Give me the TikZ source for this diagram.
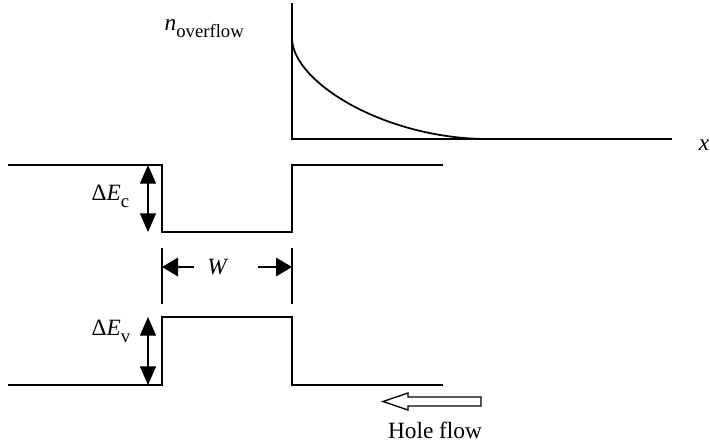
\documentclass[tikz,border=0pt]{standalone}
\usepackage{fontspec}
\setmainfont{Liberation Serif}
\usetikzlibrary{arrows.meta}

\newcommand{\lowsub}[1]{\raisebox{-0.32em}{\fontsize{14}{14}\selectfont #1}}

\begin{document}
\begin{tikzpicture}[x=0.75pt, y=-0.75pt, line width=1.1pt, font=\fontsize{17.5}{19}\selectfont,
  offset/.style={{Triangle[length=14pt,width=12pt]}-{Triangle[length=14pt,width=12pt]}, line width=0.9pt},
  width/.style={-{Triangle[length=12pt,width=14pt]}, line width=0.9pt}]
  \useasboundingbox (0,0) rectangle (710,446);

  % overflow profile
  \draw[line width=1.5pt] (292,3) -- (292,139) -- (672,139);
  \draw[line width=1.3pt] (292,38) .. controls (292,82) and (385,139) .. (488,139);
  \node[anchor=base] (xlab) at (704,150) {\textit{x}};
  \node[anchor=base west, inner sep=0] (nlab) at (164,30) {\textit{n}\lowsub{overflow}};

  % conduction band
  \draw (8,165) -- (162,165) -- (162,232) -- (292,232) -- (292,165) -- (443,165);
  \draw[offset] (148,165) -- (148,232);
  \node[anchor=base west, inner sep=0] (Ec) at (91,200) {Δ\textit{E}\lowsub{c}};

  % well width
  \draw[line width=0.9pt] (162,248) -- (162,304);
  \draw[line width=0.9pt] (292,248) -- (292,304);
  \node (W) at (218,267) {\textit{W}};
  \draw[width] (W.west) ++(-8,0) -- (162,267);
  \draw[width] (W.east) ++(24,0) -- (292,267);

  % valence band
  \draw (8,385) -- (162,385) -- (162,317) -- (292,317) -- (292,385) -- (443,385);
  \draw[offset] (148,317) -- (148,385);
  \node[anchor=base west, inner sep=0] (Ev) at (91,335) {Δ\textit{E}\lowsub{v}};

  % hole flow
  \draw[line width=1pt] (383,401.5) -- (408,393) -- (408,397) -- (481,397)
    -- (481,406) -- (408,406) -- (408,410) -- cycle;
  \node (hole) at (435,430) {Hole flow};
\end{tikzpicture}
\end{document}
